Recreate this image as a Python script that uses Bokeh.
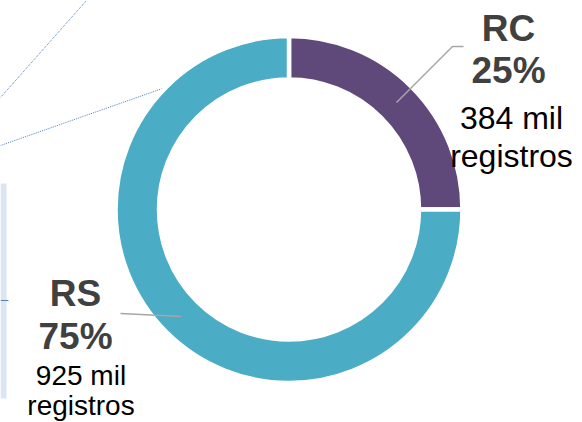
import numpy as np
from bokeh.plotting import figure
from bokeh.models import Range1d, ColumnDataSource
from bokeh.core.properties import value
from bokeh.embed import file_html
from bokeh.resources import INLINE

# Share of records per segment
categories = ["RC", "RS"]
percents = [25, 75]
records_thousands = [384, 925]
colors = ["#5F497A", "#4BACC6"]

W, H = 582, 422
p = figure(width=W, height=H, output_backend="svg", toolbar_location=None,
           x_range=Range1d(0, W), y_range=Range1d(0, H), min_border=0)
p.axis.visible = False
p.grid.visible = False
p.outline_line_color = None
p.background_fill_color = "white"
p.border_fill_color = "white"

# Decorative elements along the left edge
p.segment(x0=[0, 0], y0=[422 - 97, 422 - 145], x1=[86, 162], y1=[422, 422 - 88],
          line_color="#4F81BD", line_width=1, line_dash="1 1")
p.quad(left=[0], right=[6], top=[422 - 183], bottom=[422 - 398],
       fill_color="#DCE6F2", line_color=None)
p.segment(x0=[0], y0=[122], x1=[8], y1=[122], line_color="#4F81BD", line_width=1)

# Donut: slices run clockwise from 12 o'clock
frac = np.array(percents, dtype=float) / sum(percents)
cum = np.concatenate([[0], np.cumsum(frac)])
start = np.pi / 2 - 2 * np.pi * cum[:-1]
end = np.pi / 2 - 2 * np.pi * cum[1:]
src = ColumnDataSource(dict(cat=categories, start=start, end=end, color=colors))
cx, cy = 288.5, 213
p.annular_wedge(x=cx, y=cy, inner_radius=130, outer_radius=173.5,
                start_angle="start", end_angle="end", direction="clock",
                fill_color="color", line_color="white", line_width=4.5, source=src)

# Leader lines
p.line(x=[396, 452, 463], y=[320, 376, 376], line_color="#A6A6A6", line_width=1.5)
p.line(x=[181, 120], y=[106, 109], line_color="#A6A6A6", line_width=1.5)

font = value("Liberation Sans")

def label(x_bold, x_small, baselines, cat, pct, rec, small_size):
    p.text(x=[x_bold, x_bold], y=[H - baselines[0], H - baselines[1]],
           text=[cat, f"{pct}%"], text_font=font, text_font_size="37px",
           text_font_style="bold", text_color="#404040",
           text_align="center", text_baseline="alphabetic")
    p.text(x=[x_small, x_small], y=[H - baselines[2], H - baselines[3]],
           text=[f"{rec} mil", "registros"], text_font=font,
           text_font_size=small_size, text_color="black",
           text_align="center", text_baseline="alphabetic")

label(508, 511, [28, 70, 117, 155], categories[0], percents[0], records_thousands[0], "32px")
label(75, 80.5, [293, 336, 375, 405], categories[1], percents[1], records_thousands[1], "28px")

open("out.html", "w").write(file_html(p, INLINE))
